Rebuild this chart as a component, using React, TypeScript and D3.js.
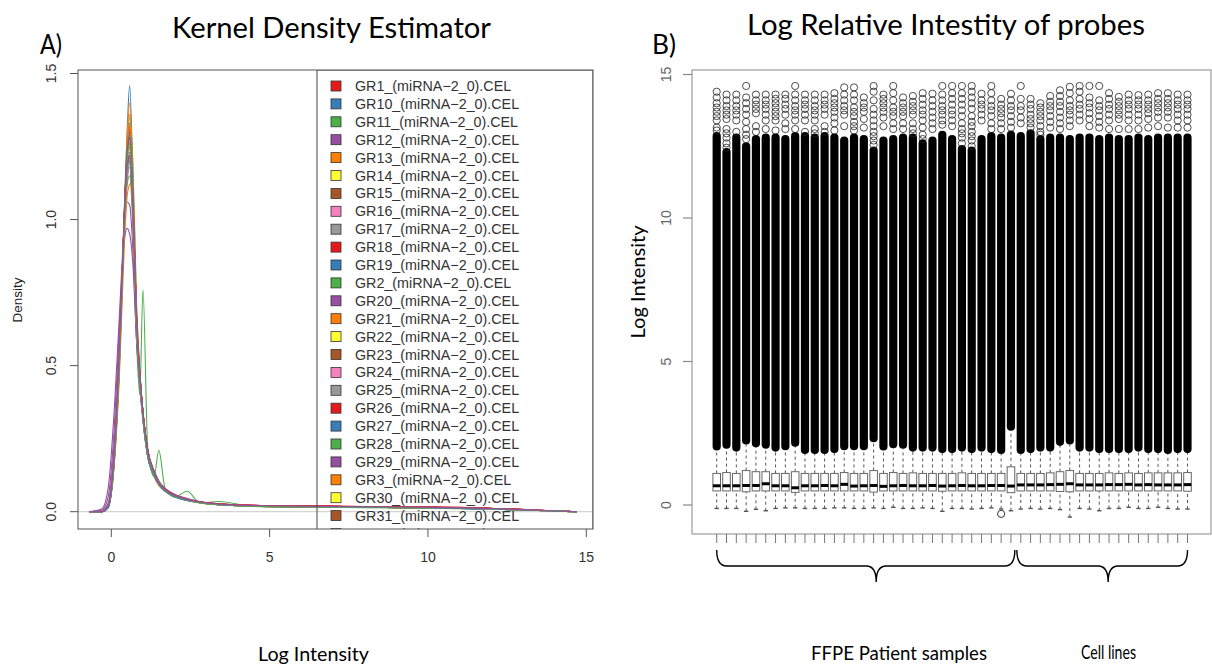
import React from "react";
import * as d3 from "d3";

// ---------- sample names (alphabetical, as listed by the array reader) ----------
const sampleNames = [
  "GR1", "GR10", "GR11", "GR12", "GR13", "GR14", "GR15", "GR16", "GR17", "GR18", "GR19",
  "GR2", "GR20", "GR21", "GR22", "GR23", "GR24", "GR25", "GR26", "GR27", "GR28", "GR29",
  "GR3", "GR30", "GR31", "GR32", "GR33", "GR34", "GR35", "GR36", "GR37", "GR38", "GR39",
  "GR4", "GR40", "GR41", "GR42", "GR43", "GR44", "GR45", "GR46", "GR47", "GR48", "GR49",
  "GR5", "GR6", "GR7", "GR8", "GR9",
];
const fileSuffix = "_(miRNA\u22122_0).CEL";

// ---------- kernel density estimates (shared x grid, one y array per sample) ----------
const densityGrid = [-0.7, -0.3, -0.1, 0.1, 0.25, 0.4, 0.5, 0.58, 0.68, 0.8, 0.9, 1.0, 1.15, 1.35, 1.5, 1.7, 2.0, 2.4, 2.8, 3.4, 4.5, 6, 8, 10, 12, 13.5, 14.7];
const densityCurves = [
  [0, 0, 0.02, 0.21, 0.52, 0.98, 1.22, 1.30, 1.08, 0.64, 0.46, 0.33, 0.20, 0.13, 0.10, 0.075, 0.055, 0.040, 0.032, 0.025, 0.021, 0.019, 0.017, 0.015, 0.011, 0.004, 0],
  [0, 0, 0.015, 0.18, 0.50, 1.00, 1.30, 1.46, 1.15, 0.62, 0.43, 0.31, 0.19, 0.12, 0.09, 0.070, 0.050, 0.038, 0.030, 0.024, 0.019, 0.017, 0.015, 0.013, 0.009, 0.004, 0],
  [0, 0, 0.015, 0.18, 0.48, 0.95, 1.22, 1.35, 1.20, 0.70, 0.48, 0.34, 0.20, 0.13, 0.10, 0.074, 0.054, 0.040, 0.031, 0.024, 0.020, 0.017, 0.015, 0.013, 0.010, 0.004, 0],
  [0, 0.003, 0.03, 0.25, 0.56, 0.97, 1.15, 1.20, 1.02, 0.62, 0.45, 0.33, 0.20, 0.13, 0.10, 0.075, 0.056, 0.042, 0.033, 0.026, 0.021, 0.018, 0.016, 0.014, 0.010, 0.004, 0],
  [0, 0, 0.015, 0.19, 0.50, 1.00, 1.28, 1.40, 1.12, 0.63, 0.45, 0.32, 0.19, 0.12, 0.09, 0.070, 0.052, 0.039, 0.031, 0.025, 0.020, 0.018, 0.016, 0.014, 0.010, 0.004, 0],
  [0, 0, 0.02, 0.20, 0.50, 0.96, 1.20, 1.28, 1.06, 0.63, 0.46, 0.33, 0.20, 0.13, 0.095, 0.072, 0.052, 0.040, 0.030, 0.024, 0.019, 0.016, 0.015, 0.013, 0.010, 0.004, 0],
  [0, 0, 0.02, 0.21, 0.51, 0.95, 1.16, 1.22, 1.04, 0.63, 0.46, 0.34, 0.21, 0.135, 0.10, 0.078, 0.057, 0.042, 0.033, 0.026, 0.021, 0.019, 0.017, 0.015, 0.011, 0.005, 0],
  [0, 0, 0.02, 0.20, 0.50, 0.95, 1.18, 1.25, 1.05, 0.62, 0.45, 0.33, 0.20, 0.13, 0.10, 0.075, 0.055, 0.041, 0.032, 0.025, 0.020, 0.018, 0.016, 0.014, 0.010, 0.004, 0],
  [0, 0, 0.02, 0.22, 0.53, 0.95, 1.13, 1.18, 1.02, 0.64, 0.47, 0.34, 0.21, 0.135, 0.10, 0.076, 0.056, 0.041, 0.032, 0.025, 0.020, 0.018, 0.016, 0.014, 0.010, 0.004, 0],
  [0, 0, 0.02, 0.20, 0.51, 0.98, 1.24, 1.32, 1.10, 0.65, 0.46, 0.33, 0.20, 0.13, 0.10, 0.074, 0.054, 0.040, 0.032, 0.025, 0.021, 0.019, 0.017, 0.015, 0.011, 0.004, 0],
  [0, 0, 0.015, 0.19, 0.50, 0.98, 1.23, 1.30, 1.08, 0.63, 0.45, 0.32, 0.19, 0.125, 0.095, 0.071, 0.052, 0.039, 0.031, 0.024, 0.019, 0.017, 0.015, 0.013, 0.009, 0.004, 0],
  [0, 0, 0.02, 0.21, 0.52, 0.96, 1.14, 1.20, 1.03, 0.64, 0.47, 0.34, 0.21, 0.14, 0.105, 0.078, 0.057, 0.042, 0.033, 0.026, 0.021, 0.018, 0.016, 0.014, 0.010, 0.004, 0],
  [0, 0.01, 0.08, 0.36, 0.66, 0.96, 1.06, 1.05, 0.90, 0.58, 0.43, 0.32, 0.20, 0.135, 0.10, 0.078, 0.058, 0.044, 0.034, 0.027, 0.022, 0.019, 0.017, 0.015, 0.011, 0.005, 0],
  [0, 0, 0.015, 0.17, 0.45, 0.88, 1.08, 1.12, 1.13, 0.70, 0.48, 0.34, 0.20, 0.13, 0.10, 0.074, 0.054, 0.040, 0.031, 0.024, 0.020, 0.017, 0.015, 0.013, 0.010, 0.004, 0],
  [0, 0, 0.02, 0.20, 0.51, 0.98, 1.22, 1.30, 1.07, 0.63, 0.45, 0.32, 0.19, 0.125, 0.095, 0.072, 0.053, 0.040, 0.031, 0.024, 0.019, 0.017, 0.015, 0.013, 0.010, 0.004, 0],
  [0, 0, 0.02, 0.21, 0.52, 0.96, 1.15, 1.20, 1.03, 0.63, 0.46, 0.33, 0.20, 0.13, 0.10, 0.076, 0.056, 0.041, 0.033, 0.026, 0.021, 0.019, 0.017, 0.015, 0.011, 0.005, 0],
  [0, 0, 0.02, 0.20, 0.50, 0.96, 1.18, 1.25, 1.05, 0.63, 0.46, 0.33, 0.20, 0.13, 0.10, 0.075, 0.055, 0.041, 0.032, 0.025, 0.020, 0.018, 0.016, 0.014, 0.010, 0.004, 0],
  [0, 0, 0.02, 0.21, 0.52, 0.96, 1.16, 1.22, 1.04, 0.63, 0.46, 0.33, 0.20, 0.13, 0.10, 0.075, 0.055, 0.041, 0.032, 0.025, 0.020, 0.018, 0.016, 0.014, 0.010, 0.004, 0],
  [0, 0, 0.02, 0.21, 0.52, 0.98, 1.20, 1.27, 1.07, 0.64, 0.46, 0.33, 0.20, 0.13, 0.10, 0.075, 0.055, 0.041, 0.032, 0.025, 0.021, 0.019, 0.017, 0.015, 0.011, 0.004, 0],
  [0, 0, 0.015, 0.19, 0.50, 0.98, 1.24, 1.33, 1.10, 0.63, 0.45, 0.32, 0.19, 0.125, 0.095, 0.071, 0.052, 0.039, 0.031, 0.024, 0.019, 0.017, 0.015, 0.013, 0.009, 0.004, 0],
  [0, 0, 0.02, 0.20, 0.50, 0.94, 1.12, 1.15, 0.98, 0.58, 0.40, 0.76, 0.22, 0.12, 0.21, 0.08, 0.05, 0.07, 0.03, 0.035, 0.018, 0.016, 0.014, 0.012, 0.009, 0.004, 0],
  [0, 0.005, 0.05, 0.30, 0.62, 0.92, 0.97, 0.95, 0.85, 0.58, 0.44, 0.33, 0.21, 0.14, 0.105, 0.08, 0.06, 0.045, 0.035, 0.027, 0.022, 0.019, 0.017, 0.015, 0.011, 0.005, 0],
  [0, 0, 0.015, 0.18, 0.48, 0.98, 1.26, 1.36, 1.12, 0.64, 0.45, 0.32, 0.19, 0.125, 0.095, 0.071, 0.052, 0.039, 0.031, 0.024, 0.019, 0.017, 0.015, 0.013, 0.010, 0.004, 0],
  [0, 0, 0.02, 0.20, 0.50, 0.95, 1.17, 1.24, 1.05, 0.63, 0.46, 0.33, 0.20, 0.13, 0.10, 0.074, 0.054, 0.040, 0.031, 0.024, 0.019, 0.017, 0.015, 0.013, 0.010, 0.004, 0],
  [0, 0, 0.02, 0.21, 0.52, 0.97, 1.19, 1.26, 1.06, 0.63, 0.46, 0.33, 0.20, 0.13, 0.10, 0.075, 0.055, 0.041, 0.032, 0.025, 0.020, 0.018, 0.016, 0.014, 0.010, 0.004, 0],
  [0, 0, 0.02, 0.20, 0.50, 0.96, 1.18, 1.24, 1.05, 0.63, 0.46, 0.33, 0.20, 0.13, 0.10, 0.075, 0.055, 0.041, 0.032, 0.026, 0.021, 0.019, 0.017, 0.015, 0.011, 0.005, 0],
  [0, 0, 0.02, 0.21, 0.52, 0.95, 1.14, 1.19, 1.03, 0.63, 0.46, 0.34, 0.21, 0.135, 0.10, 0.076, 0.056, 0.042, 0.033, 0.026, 0.021, 0.018, 0.016, 0.014, 0.010, 0.004, 0],
  [0, 0, 0.02, 0.20, 0.51, 0.98, 1.23, 1.31, 1.09, 0.65, 0.47, 0.34, 0.21, 0.135, 0.10, 0.076, 0.056, 0.042, 0.033, 0.026, 0.021, 0.019, 0.017, 0.015, 0.011, 0.004, 0],
  [0, 0, 0.015, 0.19, 0.50, 0.97, 1.21, 1.28, 1.07, 0.63, 0.45, 0.32, 0.19, 0.125, 0.095, 0.071, 0.052, 0.039, 0.031, 0.024, 0.019, 0.017, 0.015, 0.013, 0.009, 0.004, 0],
  [0, 0, 0.02, 0.20, 0.50, 0.96, 1.19, 1.26, 1.06, 0.64, 0.46, 0.33, 0.20, 0.13, 0.10, 0.074, 0.054, 0.040, 0.031, 0.024, 0.019, 0.017, 0.015, 0.013, 0.010, 0.004, 0],
  [0, 0, 0.02, 0.21, 0.52, 0.97, 1.19, 1.25, 1.06, 0.64, 0.46, 0.33, 0.20, 0.13, 0.10, 0.075, 0.055, 0.041, 0.032, 0.025, 0.020, 0.018, 0.016, 0.014, 0.010, 0.004, 0],
  [0, 0, 0.02, 0.20, 0.50, 0.97, 1.21, 1.29, 1.08, 0.63, 0.45, 0.32, 0.19, 0.125, 0.095, 0.072, 0.053, 0.040, 0.031, 0.024, 0.019, 0.017, 0.015, 0.013, 0.010, 0.004, 0],
  [0, 0, 0.02, 0.21, 0.52, 0.97, 1.18, 1.23, 1.04, 0.63, 0.46, 0.33, 0.20, 0.13, 0.10, 0.075, 0.055, 0.041, 0.032, 0.025, 0.020, 0.018, 0.016, 0.014, 0.010, 0.004, 0],
  [0, 0, 0.02, 0.21, 0.52, 0.96, 1.15, 1.21, 1.03, 0.63, 0.46, 0.34, 0.21, 0.135, 0.10, 0.077, 0.057, 0.042, 0.033, 0.026, 0.021, 0.019, 0.017, 0.015, 0.011, 0.005, 0],
  [0, 0, 0.02, 0.20, 0.50, 0.96, 1.19, 1.26, 1.06, 0.63, 0.46, 0.33, 0.20, 0.13, 0.10, 0.075, 0.055, 0.041, 0.032, 0.025, 0.020, 0.018, 0.016, 0.014, 0.010, 0.004, 0],
  [0, 0, 0.02, 0.21, 0.52, 0.96, 1.16, 1.22, 1.04, 0.63, 0.46, 0.33, 0.20, 0.13, 0.10, 0.075, 0.055, 0.041, 0.032, 0.025, 0.020, 0.018, 0.016, 0.014, 0.010, 0.004, 0],
  [0, 0, 0.02, 0.21, 0.52, 0.99, 1.23, 1.30, 1.09, 0.65, 0.47, 0.34, 0.21, 0.135, 0.10, 0.076, 0.056, 0.042, 0.033, 0.026, 0.022, 0.020, 0.018, 0.016, 0.012, 0.005, 0],
  [0, 0, 0.015, 0.19, 0.49, 0.97, 1.22, 1.30, 1.08, 0.63, 0.45, 0.32, 0.19, 0.125, 0.095, 0.071, 0.052, 0.039, 0.031, 0.024, 0.019, 0.017, 0.015, 0.013, 0.009, 0.004, 0],
  [0, 0, 0.02, 0.20, 0.50, 0.96, 1.20, 1.28, 1.08, 0.65, 0.47, 0.33, 0.20, 0.13, 0.10, 0.074, 0.054, 0.040, 0.031, 0.024, 0.019, 0.017, 0.015, 0.013, 0.010, 0.004, 0],
  [0, 0, 0.02, 0.21, 0.52, 0.96, 1.17, 1.23, 1.05, 0.64, 0.46, 0.33, 0.20, 0.13, 0.10, 0.075, 0.055, 0.041, 0.032, 0.025, 0.020, 0.018, 0.016, 0.014, 0.010, 0.004, 0],
  [0, 0, 0.02, 0.19, 0.49, 0.97, 1.23, 1.32, 1.09, 0.63, 0.45, 0.32, 0.19, 0.125, 0.095, 0.072, 0.053, 0.040, 0.031, 0.024, 0.019, 0.017, 0.015, 0.013, 0.010, 0.004, 0],
  [0, 0, 0.02, 0.20, 0.51, 0.97, 1.19, 1.26, 1.06, 0.63, 0.46, 0.33, 0.20, 0.13, 0.10, 0.075, 0.055, 0.041, 0.032, 0.025, 0.020, 0.018, 0.016, 0.014, 0.010, 0.004, 0],
  [0, 0, 0.02, 0.21, 0.52, 0.96, 1.16, 1.22, 1.04, 0.63, 0.46, 0.34, 0.21, 0.135, 0.10, 0.076, 0.056, 0.042, 0.033, 0.026, 0.021, 0.019, 0.017, 0.015, 0.011, 0.005, 0],
  [0, 0, 0.02, 0.20, 0.51, 0.97, 1.20, 1.27, 1.07, 0.64, 0.46, 0.33, 0.20, 0.13, 0.10, 0.075, 0.055, 0.041, 0.032, 0.025, 0.021, 0.019, 0.017, 0.015, 0.011, 0.004, 0],
  [0, 0, 0.02, 0.21, 0.52, 0.96, 1.15, 1.20, 1.03, 0.63, 0.46, 0.34, 0.21, 0.135, 0.10, 0.076, 0.056, 0.042, 0.033, 0.026, 0.021, 0.018, 0.016, 0.014, 0.010, 0.004, 0],
  [0, 0, 0.02, 0.21, 0.53, 0.99, 1.22, 1.28, 1.08, 0.66, 0.48, 0.34, 0.21, 0.135, 0.10, 0.077, 0.057, 0.042, 0.034, 0.027, 0.022, 0.020, 0.018, 0.016, 0.012, 0.005, 0],
  [0, 0, 0.015, 0.19, 0.50, 0.98, 1.22, 1.29, 1.08, 0.63, 0.45, 0.32, 0.19, 0.125, 0.095, 0.071, 0.052, 0.039, 0.031, 0.024, 0.019, 0.017, 0.015, 0.013, 0.009, 0.004, 0],
  [0, 0, 0.02, 0.20, 0.50, 0.96, 1.19, 1.26, 1.06, 0.64, 0.46, 0.33, 0.20, 0.13, 0.10, 0.074, 0.054, 0.040, 0.031, 0.024, 0.019, 0.017, 0.015, 0.013, 0.010, 0.004, 0],
  [0, 0, 0.02, 0.22, 0.54, 0.98, 1.18, 1.22, 1.04, 0.65, 0.47, 0.34, 0.21, 0.135, 0.10, 0.076, 0.056, 0.042, 0.033, 0.026, 0.021, 0.019, 0.017, 0.015, 0.011, 0.005, 0],
];

// ---------- boxplot summaries per array (plot order = 1..49) ----------
const boxQ1 = [
  0.49, 0.49, 0.49, 0.46, 0.49, 0.49, 0.49, 0.49, 0.44, 0.49, 0.49, 0.49, 0.49, 0.49, 0.49, 0.49, 0.45,
  0.49, 0.49, 0.49, 0.49, 0.49, 0.49, 0.48, 0.49, 0.49, 0.49, 0.49, 0.49, 0.49, 0.43,
  0.49, 0.49, 0.49, 0.49, 0.47, 0.46, 0.49, 0.49, 0.49, 0.49, 0.49, 0.49, 0.49, 0.49, 0.49, 0.49, 0.49, 0.48,
];
const boxMedian = [
  0.67, 0.67, 0.67, 0.68, 0.68, 0.74, 0.67, 0.67, 0.60, 0.67, 0.67, 0.68, 0.67, 0.72, 0.66, 0.67, 0.68,
  0.65, 0.67, 0.68, 0.67, 0.67, 0.68, 0.66, 0.67, 0.68, 0.67, 0.67, 0.68, 0.68, 0.66,
  0.70, 0.70, 0.70, 0.71, 0.72, 0.74, 0.70, 0.70, 0.70, 0.71, 0.71, 0.72, 0.70, 0.71, 0.70, 0.70, 0.70, 0.71,
];
const boxQ3 = [
  1.10, 1.13, 1.10, 1.20, 1.16, 1.16, 1.10, 1.10, 1.16, 1.10, 1.10, 1.10, 1.10, 1.13, 1.10, 1.10, 1.20,
  1.10, 1.13, 1.10, 1.12, 1.10, 1.10, 1.10, 1.10, 1.12, 1.10, 1.10, 1.10, 1.10, 1.33,
  1.10, 1.10, 1.10, 1.12, 1.16, 1.20, 1.10, 1.10, 1.10, 1.12, 1.10, 1.12, 1.10, 1.12, 1.12, 1.12, 1.12, 1.13,
];
const whiskerLow = [
  -0.12, -0.12, -0.12, -0.22, -0.15, -0.20, -0.12, -0.10, -0.10, -0.12, -0.12, -0.12, -0.10, -0.10, -0.12, -0.12, -0.10,
  -0.12, -0.08, -0.12, -0.12, -0.10, -0.12, -0.22, -0.12, -0.12, -0.14, -0.12, -0.10, -0.14, -0.20,
  -0.14, -0.12, -0.14, -0.12, -0.16, -0.42, -0.12, -0.14, -0.20, -0.12, -0.12, -0.08, -0.12, -0.12, -0.08, -0.12, -0.14, -0.14,
];
// continuous run of high-side outliers (centres of lowest and highest points of the run)
const outlierRunLow = [
  2.04, 2.10, 2.00, 2.25, 2.15, 2.10, 2.00, 2.05, 2.17, 1.92, 1.92, 1.92, 1.95, 2.05, 2.05, 2.05, 2.33,
  2.04, 2.12, 2.10, 2.00, 2.00, 2.00, 1.95, 1.95, 2.00, 1.95, 2.00, 1.95, 1.92, 2.73,
  1.92, 1.95, 2.00, 2.00, 2.20, 2.25, 2.00, 2.00, 1.95, 1.95, 1.95, 1.95, 2.00, 1.95, 1.95, 1.92, 1.95, 1.95,
];
const outlierRunHigh = [
  12.85, 12.30, 12.80, 12.50, 12.75, 12.80, 12.80, 12.75, 12.85, 12.85, 12.80, 12.85, 12.80, 12.70, 12.80, 12.75, 12.35,
  12.70, 12.75, 12.80, 12.80, 12.60, 12.70, 12.90, 12.75, 12.40, 12.35, 12.75, 12.85, 12.80, 12.90,
  12.85, 12.95, 12.75, 12.80, 12.80, 12.75, 12.80, 12.80, 12.75, 12.80, 12.75, 12.75, 12.80, 12.75, 12.80, 12.80, 12.80, 12.80,
];
// isolated high outliers above the run
const upperOutliers = [
  [14.4, 14.2, 14.0, 13.85, 13.7, 13.55, 13.4, 13.15, 13.05],
  [14.3, 14.1, 13.9, 13.75, 13.6, 13.45, 13.1, 12.95, 12.8, 12.6, 12.45],
  [14.3, 14.1, 13.9, 13.75, 13.6, 13.4, 13.0],
  [14.6, 14.2, 14.0, 13.8, 13.6, 13.35, 13.1, 12.9, 12.75],
  [14.3, 14.1, 13.95, 13.8, 13.65, 13.2, 13.0],
  [14.3, 14.1, 13.95, 13.8, 13.6, 13.4, 13.1],
  [14.3, 14.15, 14.0, 13.85, 13.7, 13.55, 13.4, 13.05],
  [14.3, 14.15, 13.95, 13.8, 13.6, 13.3, 13.1],
  [14.6, 14.3, 14.1, 13.9, 13.75, 13.6, 13.4, 13.1],
  [14.3, 14.1, 13.95, 13.8, 13.6, 13.4, 13.0],
  [14.3, 14.1, 13.9, 13.75, 13.6, 13.4, 13.1, 12.95],
  [14.3, 14.1, 13.95, 13.8, 13.6, 13.2, 13.0],
  [14.35, 14.15, 14.0, 13.85, 13.7, 13.5, 13.3, 13.05],
  [14.55, 14.3, 14.1, 13.9, 13.75, 13.6, 13.2],
  [14.55, 14.3, 14.1, 13.85, 13.7, 13.55, 13.35, 13.2, 13.05],
  [14.2, 14.0, 13.85, 13.7, 13.45, 13.15],
  [14.6, 14.4, 14.1, 13.8, 13.6, 13.4, 13.2, 13.0, 12.85, 12.7, 12.55],
  [14.3, 14.15, 14.0, 13.85, 13.7, 13.5, 13.2],
  [14.6, 14.35, 14.1, 13.85, 13.7, 13.55, 13.3, 13.1],
  [14.2, 14.0, 13.85, 13.7, 13.55, 13.3, 13.1],
  [14.25, 14.05, 13.9, 13.75, 13.6, 13.3, 13.1, 12.95],
  [14.35, 14.15, 13.95, 13.75, 13.6, 13.4, 13.15, 12.9, 12.75],
  [14.33, 14.1, 13.9, 13.7, 13.5, 13.3, 13.1],
  [14.6, 14.3, 14.1, 13.9, 13.75, 13.6, 13.4, 13.25],
  [14.6, 14.35, 14.15, 13.95, 13.75, 13.6, 13.4, 13.2],
  [14.6, 14.35, 14.15, 13.95, 13.75, 13.55, 13.3, 13.1, 12.95, 12.8, 12.6],
  [14.6, 14.4, 14.2, 14.0, 13.8, 13.55, 13.35, 13.2, 13.0, 12.85, 12.7, 12.5],
  [14.33, 14.1, 13.95, 13.8, 13.6, 13.4],
  [14.6, 14.35, 14.1, 13.9, 13.75, 13.55, 13.3, 13.1],
  [14.15, 13.95, 13.8, 13.65, 13.5, 13.3, 13.1],
  [14.33, 14.1, 13.9, 13.75, 13.55, 13.35, 13.15],
  [14.6, 14.15, 13.9, 13.75, 13.5, 13.3],
  [14.15, 13.95, 13.8, 13.6, 13.45, 13.3, 13.15],
  [14.0, 13.85, 13.7, 13.55, 13.4, 13.2, 13.0, 12.9],
  [14.25, 14.05, 13.9, 13.75, 13.55, 13.35, 13.15],
  [14.45, 14.25, 14.05, 13.9, 13.7, 13.5, 13.3, 13.1],
  [14.57, 14.35, 14.1, 13.9, 13.75, 13.6, 13.4, 13.2],
  [14.6, 14.4, 14.15, 13.95, 13.8, 13.6, 13.4],
  [14.6, 14.2, 14.0, 13.85, 13.65, 13.45, 13.2],
  [14.6, 14.1, 13.9, 13.75, 13.55, 13.35, 13.15],
  [14.35, 14.15, 13.95, 13.8, 13.6, 13.4, 13.1],
  [14.22, 14.05, 13.9, 13.75, 13.6, 13.45, 13.1],
  [14.3, 14.1, 13.95, 13.8, 13.6, 13.4, 13.1],
  [14.28, 14.1, 13.95, 13.8, 13.6, 13.4, 13.1],
  [14.3, 14.1, 13.95, 13.8, 13.65, 13.45, 13.15],
  [14.35, 14.15, 14.0, 13.85, 13.7, 13.5, 13.2],
  [14.35, 14.15, 14.0, 13.85, 13.7, 13.5, 13.15],
  [14.3, 14.1, 13.95, 13.8, 13.6, 13.4, 13.15],
  [14.3, 14.1, 13.95, 13.8, 13.6, 13.4, 13.15],
];
// low-side outliers below the lower whisker (array index -> values)
const lowerOutliers: { [k: number]: number[] } = { 29: [-0.31] };

// ---------- sample groups ----------
const groupLabels = ["FFPE Patient samples", "Cell lines"];
const groupFirst = [0, 31];
const groupLast = [30, 48];

// ---------- axis ticks ----------
const densityTicksX = [0, 5, 10, 15];
const densityTicksY = [0, 0.5, 1.0, 1.5];
const intensityTicksY = [0, 5, 10, 15];

const FONT_R = "'Liberation Sans', Arial, sans-serif";
const FONT_TXT = "Lato, 'Open Sans', sans-serif";

function bracePath(x0: number, x1: number, tipFrac: number, yTop: number, yMid: number, yTip: number) {
  const xm = x0 + (x1 - x0) * tipFrac;
  const r = 10;
  return `M${x0},${yTop} Q${x0},${yMid} ${x0 + r},${yMid} L${xm - r},${yMid} Q${xm},${yMid} ${xm},${yTip} ` +
    `Q${xm},${yMid} ${xm + r},${yMid} L${x1 - r},${yMid} Q${x1},${yMid} ${x1},${yTop}`;
}

export default function App() {
  // ----- panel A: density -----
  const A = { left: 78, right: 593, top: 70, bottom: 529 };
  const xA = d3.scaleLinear().domain([0, 15]).range([111.3, 586.3]);
  const yA = d3.scaleLinear().domain([0, 1.5]).range([511.7, 73.5]);
  const colors = d3.schemeSet1;
  const densityLine = d3
    .line<number>()
    .x((_, i) => xA(densityGrid[i]))
    .y((d) => yA(d))
    .curve(d3.curveMonotoneX);
  const legendX = 317;
  const rowY = (k: number) => 86 + 17.9 * k;
  // the legend runs past the bottom of the plot region; only rows that reach into it are drawn
  const legendRows = sampleNames.map((s, k) => ({ s, k })).filter(({ k }) => rowY(k) - 8 < A.bottom);

  // ----- panel B: boxplots -----
  const B = { left: 692, right: 1211, top: 70, bottom: 534 };
  const xB = d3.scaleLinear().domain([1, sampleNames.length]).range([716.7, 1187.5]);
  const yB = d3.scaleLinear().domain([0, 15]).range([505, 74.5]);
  const boxHalf = 3.8;
  const ptR = 3.6;

  return (
    <svg
      width={1212}
      height={668}
      viewBox="0 0 1212 668"
      style={{ position: "absolute", left: 0, top: 0, background: "#fff" }}
    >
      <defs>
        <clipPath id="clipA">
          <rect x={A.left} y={A.top} width={A.right - A.left} height={A.bottom - A.top} />
        </clipPath>
      </defs>
      <rect x={0} y={0} width={1212} height={668} fill="#fff" />

      {/* ================= Panel A ================= */}
      <text x={40} y={54} fontFamily={FONT_TXT} fontSize={27} fill="#000" textLength={22} lengthAdjust="spacingAndGlyphs">A)</text>
      <text x={172} y={38} fontFamily={FONT_TXT} fontSize={28} fill="#000" textLength={319} lengthAdjust="spacingAndGlyphs">Kernel Density Estimator</text>

      {/* zero reference line */}
      <line x1={A.left} x2={A.right} y1={yA(0)} y2={yA(0)} stroke="#d4d4d4" strokeWidth={1.2} />

      {/* density curves */}
      <g clipPath="url(#clipA)" fill="none" strokeWidth={1.1}>
        {densityCurves.map((c, i) => (
          <path key={i} d={densityLine(c) || ""} stroke={colors[i % 9]} />
        ))}
      </g>

      {/* legend */}
      <g clipPath="url(#clipA)">
        <rect x={legendX} y={A.top} width={A.right - legendX} height={560} fill="none" stroke="#444" strokeWidth={1} />
        {legendRows.map(({ s, k }) => (
          <g key={s}>
            <rect x={331} y={rowY(k) - 5} width={10} height={10} fill={colors[k % 9]} stroke="#333" strokeWidth={0.8} />
            <text x={355} y={rowY(k) + 5} fontFamily={FONT_R} fontSize={14.3} fill="#333">
              {s + fileSuffix}
            </text>
          </g>
        ))}
      </g>

      {/* frame + axes */}
      <rect x={A.left} y={A.top} width={A.right - A.left} height={A.bottom - A.top} fill="none" stroke="#555" strokeWidth={1} />
      {densityTicksY.map((v) => (
        <g key={v}>
          <line x1={70} x2={A.left} y1={yA(v)} y2={yA(v)} stroke="#555" />
          <text
            transform={`translate(56,${yA(v)}) rotate(-90)`}
            textAnchor="middle"
            fontFamily={FONT_R}
            fontSize={14}
            fill="#333"
          >
            {d3.format(".1f")(v)}
          </text>
        </g>
      ))}
      {densityTicksX.map((v) => (
        <g key={v}>
          <line x1={xA(v)} x2={xA(v)} y1={A.bottom} y2={537} stroke="#555" />
          <text x={xA(v)} y={562} textAnchor="middle" fontFamily={FONT_R} fontSize={14} fill="#333">
            {v}
          </text>
        </g>
      ))}
      <text transform="translate(22,300) rotate(-90)" textAnchor="middle" fontFamily={FONT_R} fontSize={13.5} fill="#222">
        Density
      </text>
      <text x={258} y={661} fontFamily={FONT_TXT} fontSize={19} fill="#000" textLength={111} lengthAdjust="spacingAndGlyphs">Log Intensity</text>

      {/* ================= Panel B ================= */}
      <text x={652} y={54} fontFamily={FONT_TXT} fontSize={27} fill="#000" textLength={24} lengthAdjust="spacingAndGlyphs">B)</text>
      <text x={747} y={35} fontFamily={FONT_TXT} fontSize={28} fill="#000" textLength={398} lengthAdjust="spacingAndGlyphs">Log Relative Intestity of probes</text>

      {sampleNames.map((s, i) => {
        const cx = xB(i + 1);
        const yq1 = yB(boxQ1[i]);
        const yq3 = yB(boxQ3[i]);
        const ymed = yB(boxMedian[i]);
        const ylo = yB(whiskerLow[i]);
        const runTop = yB(outlierRunHigh[i]) - ptR - 0.5;
        const runBot = yB(outlierRunLow[i]) + ptR + 0.5;
        return (
          <g key={s}>
            {/* whiskers */}
            <line x1={cx} x2={cx} y1={ylo} y2={yq1} stroke="#555" strokeDasharray="3,3" />
            <line x1={cx - 2.2} x2={cx + 2.2} y1={ylo} y2={ylo} stroke="#555" strokeWidth={1.4} />
            <line x1={cx} x2={cx} y1={yq3} y2={runBot} stroke="#555" strokeDasharray="3,3" />
            {/* box */}
            <rect x={cx - boxHalf} y={yq3} width={boxHalf * 2} height={yq1 - yq3} fill="#fff" stroke="#666" strokeWidth={1} />
            <line x1={cx - boxHalf} x2={cx + boxHalf} y1={ymed} y2={ymed} stroke="#000" strokeWidth={3} />
            {/* dense outlier run */}
            <rect
              x={cx - ptR - 0.5}
              y={runTop}
              width={(ptR + 0.5) * 2}
              height={runBot - runTop}
              rx={ptR + 0.5}
              ry={ptR + 0.5}
              fill="#000"
            />
            {/* isolated outliers */}
            {upperOutliers[i].map((v, j) => (
              <circle key={j} cx={cx} cy={yB(v)} r={ptR} fill="none" stroke="#222" strokeOpacity={0.8} strokeWidth={1} />
            ))}
            {(lowerOutliers[i] || []).map((v, j) => (
              <circle key={"l" + j} cx={cx} cy={yB(v)} r={ptR} fill="none" stroke="#333" strokeWidth={1} />
            ))}
          </g>
        );
      })}

      {/* frame + axes */}
      <rect x={B.left} y={B.top} width={B.right - B.left} height={B.bottom - B.top} fill="none" stroke="#aaa" strokeWidth={1.4} />
      {intensityTicksY.map((v) => (
        <g key={v}>
          <line x1={683} x2={B.left} y1={yB(v)} y2={yB(v)} stroke="#888" strokeWidth={1.2} />
          <text
            transform={`translate(671,${yB(v)}) rotate(-90)`}
            textAnchor="middle"
            fontFamily={FONT_R}
            fontSize={14}
            fill="#666"
          >
            {v}
          </text>
        </g>
      ))}
      {sampleNames.map((s, i) => (
        <line key={"t" + s} x1={xB(i + 1)} x2={xB(i + 1)} y1={B.bottom} y2={543} stroke="#777" strokeWidth={1} />
      ))}
      <text
        transform="translate(645,282) rotate(-90)"
        textAnchor="middle"
        fontFamily={FONT_TXT}
        fontSize={19}
        fill="#000"
        textLength={113}
        lengthAdjust="spacingAndGlyphs"
      >
        Log Intensity
      </text>

      {/* group braces */}
      {groupLabels.map((g, k) => {
        const split = (xB(groupLast[0] + 1) + xB(groupFirst[1] + 1)) / 2;
        const x0 = k === 0 ? xB(groupFirst[k] + 1) : split + 1;
        const x1 = k === 0 ? split - 1 : xB(groupLast[k] + 1);
        return (
          <path key={g} d={bracePath(x0, x1, 0.535, 550, 566, 582)} fill="none" stroke="#000" strokeWidth={1.4} />
        );
      })}
      <text x={811} y={660} fontFamily={FONT_TXT} fontSize={19} fill="#000" textLength={176} lengthAdjust="spacingAndGlyphs">{groupLabels[0]}</text>
      <text x={1081} y={659} fontFamily={FONT_TXT} fontSize={19} fill="#000" textLength={55} lengthAdjust="spacingAndGlyphs">{groupLabels[1]}</text>
    </svg>
  );
}
